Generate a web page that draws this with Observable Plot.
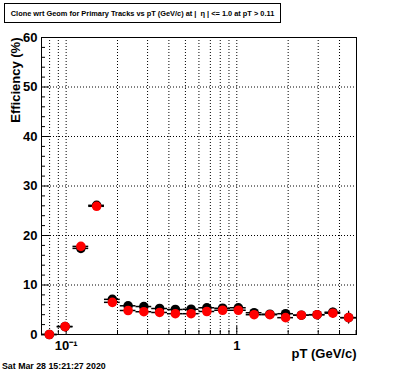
<!DOCTYPE html>
<html><head><meta charset="utf-8">
<script src="https://cdn.jsdelivr.net/npm/d3@7"></script>
<script src="https://cdn.jsdelivr.net/npm/@observablehq/plot@0.6"></script>
<style>
body{margin:0;background:#fff;}
#wrap{position:relative;width:396px;height:372px;font-family:"Liberation Sans",Arial,sans-serif;font-weight:bold;color:#000;}
#wrap svg{position:absolute;left:0;top:0;}
#title{position:absolute;left:4px;top:3px;width:277px;height:20px;border:1px solid #000;box-sizing:border-box;font-size:7.4px;display:flex;align-items:center;justify-content:center;white-space:nowrap;background:#fff;z-index:2;}
#date{position:absolute;left:2px;top:361px;font-size:8.8px;white-space:nowrap;z-index:2;}
</style></head>
<body>
<div id="wrap">
<div id="title">Clone wrt Geom for Primary Tracks vs pT (GeV/c) at |&nbsp;&nbsp;η | &lt;= 1.0 at pT &gt; 0.11</div>
<div id="date">Sat Mar 28 15:21:27 2020</div>
</div>
<script>
// bin centres and edges (pT, GeV/c)
const pT    = [0.0797,0.0986,0.1220,0.1509,0.1866,0.2307,0.2853,0.3529,0.4365,0.5399,0.6677,0.8258,1.0214,1.2634,1.5625,1.9325,2.3901,2.9561,3.6560,4.5219];
const binLo = [0.07171,0.08867,0.10966,0.13561,0.16771,0.20749,0.25659,0.31735,0.39247,0.48541,0.60035,0.74250,0.91852,1.1360,1.4050,1.7378,2.1493,2.6583,3.2878,4.0664];
const binHi = [0.08867,0.10966,0.13561,0.16771,0.20749,0.25659,0.31735,0.39247,0.48541,0.60035,0.74250,0.91852,1.1360,1.4050,1.7378,2.1493,2.6583,3.2878,4.0664,5.0293];
// efficiencies (%)
const blackEff = [0.0,1.6,17.4,26.1,7.1,5.8,5.65,5.25,5.05,5.1,5.4,5.3,5.4,4.4,4.1,4.2,3.9,4.0,4.5,3.4];
const blackErr = [0,0.3,0.4,0.5,0.3,0.2,0.2,0.2,0.2,0.2,0.2,0.2,0.3,0.3,0.3,0.3,0.4,0.5,0.8,1.2];
const redEff   = [0.0,1.6,17.8,25.9,6.5,4.85,4.6,4.45,4.2,4.2,4.65,4.9,4.9,4.0,4.0,3.4,3.9,4.0,4.3,3.4];
const redErr   = [0,0.3,0.4,0.5,0.3,0.2,0.2,0.2,0.2,0.2,0.2,0.2,0.3,0.3,0.3,0.3,0.4,0.5,1.0,1.3];
// axis ticks
const yMajor = [0,10,20,30,40,50,60];
const yMinor = [2,4,6,8,12,14,16,18,22,24,26,28,32,34,36,38,42,44,46,48,52,54,56,58];
const yGrid  = [10,20,30,40,50];
const xMajor = [0.1,1];
const xMinor = [0.08,0.09,0.2,0.3,0.4,0.5,0.6,0.7,0.8,0.9,2,3,4,5];
const xGrid  = [0.08,0.09,0.1,0.2,0.3,0.4,0.5,0.6,0.7,0.8,0.9,1,2,3,4];

const black = pT.map((x,i)=>({pT:x, lo:binLo[i], hi:binHi[i], eff:blackEff[i], err:blackErr[i]}));
const red   = pT.map((x,i)=>({pT:x, lo:binLo[i], hi:binHi[i], eff:redEff[i], err:redErr[i]}));

const dotted = {stroke:"#000", strokeOpacity:1, strokeWidth:1, strokeDasharray:"1,2"};
const font = {fontSize:13, fontWeight:"bold", fontFamily:"Liberation Sans, Arial, sans-serif"};

const chart = Plot.plot({
  width:396, height:372,
  marginLeft:41, marginRight:40, marginTop:37, marginBottom:38,
  style:{background:"transparent", fontFamily:"Liberation Sans, Arial, sans-serif", color:"#000"},
  x:{type:"log", domain:[0.07171,5.0293]},
  y:{domain:[0,60]},
  marks:[
    Plot.gridX(xGrid, dotted),
    Plot.gridY(yGrid, dotted),
    Plot.frame({stroke:"#000", strokeWidth:1}),
    Plot.axisY(yMajor, {tickSize:-8, tickPadding:12, ...font, label:null, tickFormat:d=>String(d)}),
    Plot.axisY(yMinor, {tickSize:-4, text:null, label:null}),
    Plot.axisX(xMajor, {tickSize:-8, tickPadding:14, ...font, label:null, tickFormat:d=>d===1?"1":"10⁻¹"}),
    Plot.axisX(xMinor, {tickSize:-4, text:null, label:null}),
    Plot.ruleY(black, {y:"eff", x1:"lo", x2:"hi", stroke:"#000", strokeWidth:1.5}),
    Plot.ruleX(black, {x:"pT", y1:d=>d.eff-d.err, y2:d=>d.eff+d.err, stroke:"#000", strokeWidth:1}),
    Plot.ruleY(red, {y:"eff", x1:"lo", x2:"hi", stroke:"#000", strokeWidth:1.5}),
    Plot.ruleX(red, {x:"pT", y1:d=>d.eff-d.err, y2:d=>d.eff+d.err, stroke:"#000", strokeWidth:1}),
    Plot.dot(black, {x:"pT", y:"eff", r:4.8, fill:"#000", stroke:null}),
    Plot.dot(red, {x:"pT", y:"eff", r:4.8, fill:"#ff0000", stroke:null}),
    Plot.text(["Efficiency (%)"], {frameAnchor:"top-left", dx:-31, rotate:-90, textAnchor:"end", ...font, text:d=>d, fill:"#000"}),
    Plot.text(["pT (GeV/c)"], {frameAnchor:"bottom-right", dy:23, textAnchor:"end", ...font, text:d=>d, fill:"#000"})
  ]
});
document.getElementById("wrap").appendChild(chart);
</script>
</body></html>
